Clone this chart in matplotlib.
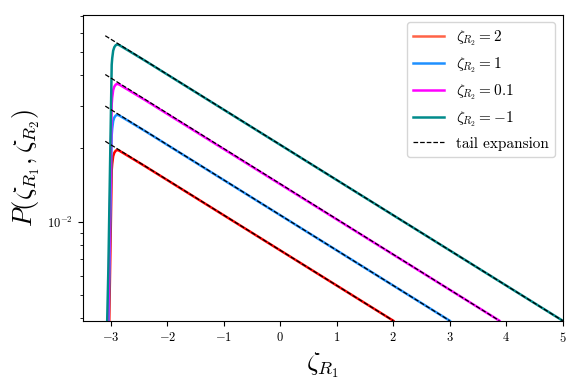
import matplotlib
matplotlib.use("Agg")
import matplotlib.pyplot as plt
from matplotlib.lines import Line2D
from matplotlib.ticker import NullFormatter

plt.rcParams['mathtext.fontset'] = 'cm'
plt.rcParams['font.family'] = 'serif'
plt.rcParams['font.serif'] = ['cmr10', 'DejaVu Serif']
plt.rcParams['axes.formatter.use_mathtext'] = True
plt.rcParams['axes.unicode_minus'] = True

# ---- data ----
zeta_R2_labels = [r'$\zeta_{R_2}=2$', r'$\zeta_{R_2}=1$', r'$\zeta_{R_2}=0.1$', r'$\zeta_{R_2}=-1$']
line_colors = ['red', 'dodgerblue', 'magenta', '#008b8b']
legend_colors = ['#ff6347', 'dodgerblue', 'magenta', '#008b8b']

x_rise = [-3.070, -3.066, -3.045, -3.025, -3.005, -2.986, -2.977, -2.960,
          -2.940, -2.915, -2.888, -2.850, -2.700, -2.400]
x_end = [2.0, 3.0, 3.88, 5.0]
y_end = 0.00391

p_z2_2 = [0.00004, 0.00143, 0.00235, 0.00456, 0.00872, 0.01626, 0.01729, 0.01858,
          0.01920, 0.01957, 0.01972, 0.01957, 0.01865, 0.01692]
p_z2_1 = [0.00005, 0.00200, 0.00329, 0.00637, 0.01217, 0.02269, 0.02413, 0.02593,
          0.02680, 0.02731, 0.02752, 0.02731, 0.02603, 0.02362]
p_z2_01 = [0.00007, 0.00268, 0.00441, 0.00854, 0.01632, 0.03043, 0.03235, 0.03476,
           0.03593, 0.03662, 0.03690, 0.03662, 0.03490, 0.03167]
p_z2_m1 = [0.0001, 0.0039, 0.0064, 0.0124, 0.0237, 0.0442, 0.0470, 0.0505,
           0.0522, 0.0532, 0.0536, 0.0532, 0.0507, 0.0460]
curves = [p_z2_2, p_z2_1, p_z2_01, p_z2_m1]

# tail expansion: straight lines on log scale from x=-3.1 to the end point
tail_x_start = -3.1
tail_y_start = [0.02141, 0.02988, 0.04030, 0.0582]

xticks = [-3, -2, -1, 0, 1, 2, 3, 4, 5]

# ---- figure ----
fig = plt.figure(figsize=(5.81, 3.88), dpi=100)
ax = fig.add_axes([0.1423, 0.1727, 0.8262, 0.7893])

for ys, xe, col in zip(curves, x_end, line_colors):
    ax.plot(x_rise + [xe], ys + [y_end], color=col, lw=1.8, solid_joinstyle='round')

for ys0, xe in zip(tail_y_start, x_end):
    ax.plot([tail_x_start, xe], [ys0, y_end], color='black', lw=0.9, ls='--')

ax.set_yscale('log')
ax.set_xlim(-3.5, 5)
ax.set_ylim(0.0039, 0.071)
ax.set_xticks(xticks)
ax.yaxis.set_minor_formatter(NullFormatter())
ax.tick_params(labelsize=9)

ax.set_xlabel(r'$\zeta_{R_1}$', fontsize=19)
ax.set_ylabel(r'$P(\zeta_{R_1},\zeta_{R_2})$', fontsize=19)

handles = [Line2D([], [], color=c, lw=1.8) for c in legend_colors]
handles.append(Line2D([], [], color='black', lw=0.9, ls='--'))
labels = zeta_R2_labels + ['tail expansion']
ax.legend(handles, labels, loc='upper right', fontsize=11)

fig.savefig('out.png', dpi=100)
